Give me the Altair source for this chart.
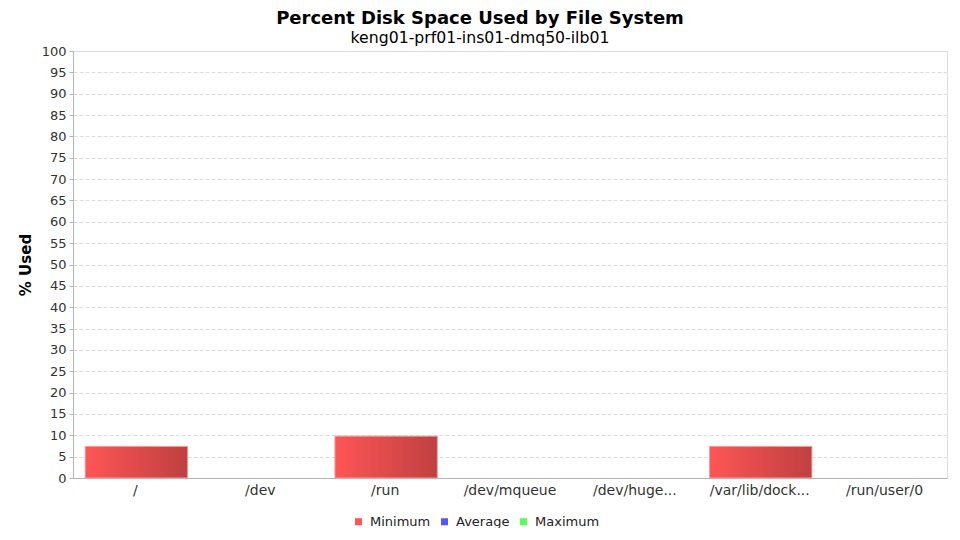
import altair as alt
import pandas as pd

categories = ["/", "/dev", "/run", "/dev/mqueue", "/dev/huge...", "/var/lib/dock...", "/run/user/0"]
minimum = [7.4, 0, 9.8, 0, 0, 7.4, 0]
series = ["Minimum", "Average", "Maximum"]
colors = ["#FF5555", "#5555FF", "#55FF55"]
y_ticks = list(range(0, 101, 5))

df = pd.DataFrame({"fs": categories, "value": minimum, "series": ["Minimum"] * len(categories)})

FONT = "DejaVu Sans"

x = alt.X(
    "fs:N",
    sort=categories,
    scale=alt.Scale(domain=categories, paddingInner=0, paddingOuter=0),
    axis=alt.Axis(title=None, labelAngle=0, ticks=False, labelPadding=5, grid=False,
                  labelFont=FONT, labelFontSize=14, labelColor="#333333",
                  domainColor="#B4B4B4", labelLimit=200),
)
y = alt.Y(
    "value:Q",
    scale=alt.Scale(domain=[0, 100], nice=False),
    axis=alt.Axis(title="% Used", values=y_ticks, tickSize=4, tickColor="#B4B4B4",
                  domainColor="#B4B4B4", labelFont=FONT, labelFontSize=13, labelColor="#333333",
                  titleFont=FONT, titleFontSize=15, titleFontWeight="bold", titleColor="#000000",
                  titlePadding=8, labelPadding=3,
                  grid=True, gridColor="#DDDDDD", gridDash=[4, 2]),
)

base = alt.Chart(df).transform_filter(alt.datum.value > 0)

flat = base.mark_bar(width=alt.RelativeBandSize(0.82), xOffset=1).encode(
    x=x,
    y=y,
    color=alt.Color(
        "series:N",
        scale=alt.Scale(domain=series, range=colors),
        legend=alt.Legend(title=None, orient="none", legendX=279, legendY=464, direction="horizontal",
                          columns=3, symbolType="square", symbolSize=49, symbolStrokeWidth=0,
                          labelFont=FONT, labelFontSize=13, labelColor="#222222",
                          labelOffset=5, columnPadding=7, padding=0),
    ),
)

grad = base.mark_bar(
    width=alt.RelativeBandSize(0.82),
    xOffset=1,
    fill=alt.Gradient(gradient="linear", x1=0, x2=1, y1=0, y2=0,
                      stops=[alt.GradientStop(offset=0, color="#FF5555"),
                             alt.GradientStop(offset=1, color="#C04040")]),
    stroke="#F2A0A0",
    strokeWidth=1,
).encode(x=x, y=y)

chart = alt.layer(flat, grad).properties(
    width=874,
    height=427,
    padding={"left": 65, "top": 43, "right": 5, "bottom": 50},
    autosize=alt.AutoSizeParams(type="none"),
    title=alt.Title(
        "Percent Disk Space Used by File System",
        subtitle="keng01-prf01-ins01-dmq50-ilb01",
        font=FONT, fontSize=18, fontWeight="bold", color="#000000",
        subtitleFont=FONT, subtitleFontSize=15.7, subtitleColor="#000000",
        anchor="middle", dx=-30, offset=-1, subtitlePadding=3,
    ),
).configure_view(stroke=None).configure(background="white")

chart.save("out.html", embed_options={"renderer": "svg", "actions": False})
